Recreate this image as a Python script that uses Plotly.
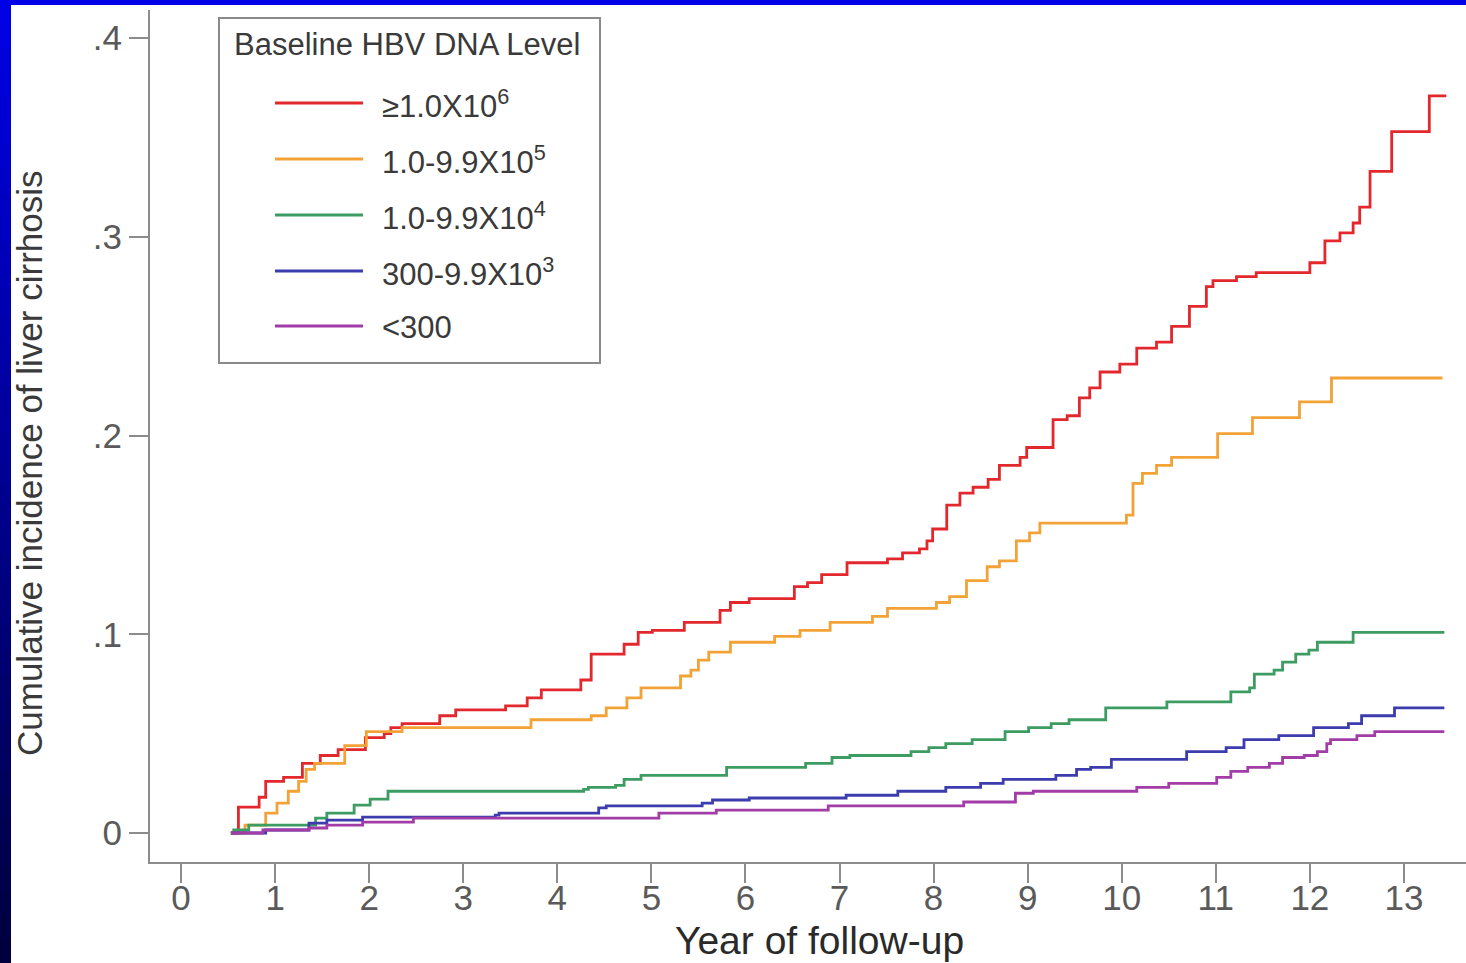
import plotly.graph_objects as go

# ---------------- data ----------------
red_t = [0.53, 0.61, 0.83, 0.90, 1.09, 1.29, 1.48, 1.67, 1.96, 2.16, 2.23, 2.35, 2.75, 2.92,
         3.45, 3.68, 3.83, 4.25, 4.36, 4.71, 4.86, 5.01, 5.35, 5.73, 5.84, 6.04, 6.52, 6.66,
         6.81, 7.08, 7.51, 7.67, 7.85, 7.93, 7.99, 8.14, 8.28, 8.42, 8.58, 8.70, 8.92, 8.99,
         9.27, 9.42, 9.55, 9.66, 9.77, 9.98, 10.16, 10.37, 10.53, 10.72, 10.90, 10.97, 11.22,
         11.43, 12.00, 12.16, 12.32, 12.46, 12.53, 12.64, 12.87, 13.27, 13.45]
red_v = [0.000, 0.013, 0.018, 0.026, 0.028, 0.035, 0.039, 0.042, 0.048, 0.050, 0.053, 0.055,
         0.059, 0.062, 0.064, 0.068, 0.072, 0.077, 0.090, 0.095, 0.101, 0.102, 0.106, 0.112,
         0.116, 0.118, 0.124, 0.126, 0.130, 0.136, 0.138, 0.141, 0.143, 0.147, 0.153, 0.165,
         0.171, 0.174, 0.178, 0.185, 0.189, 0.194, 0.208, 0.210, 0.219, 0.224, 0.232, 0.236,
         0.244, 0.247, 0.255, 0.265, 0.275, 0.278, 0.280, 0.282, 0.287, 0.298, 0.302, 0.307,
         0.315, 0.333, 0.353, 0.371, 0.371]

orange_t = [0.53, 0.68, 0.90, 1.02, 1.14, 1.25, 1.33, 1.42, 1.74, 1.97, 2.35, 3.72, 4.36, 4.52,
            4.74, 4.89, 5.31, 5.42, 5.50, 5.61, 5.84, 6.31, 6.58, 6.90, 7.35, 7.51, 8.03, 8.17,
            8.35, 8.57, 8.70, 8.88, 9.02, 9.13, 10.05, 10.12, 10.22, 10.37, 10.53, 11.02,
            11.39, 11.89, 12.23, 13.41]
orange_v = [0.000, 0.004, 0.010, 0.015, 0.021, 0.026, 0.032, 0.035, 0.044, 0.051, 0.053, 0.057,
            0.059, 0.063, 0.068, 0.073, 0.079, 0.082, 0.087, 0.091, 0.096, 0.099, 0.102, 0.106,
            0.109, 0.113, 0.116, 0.119, 0.127, 0.134, 0.137, 0.147, 0.151, 0.156, 0.160, 0.176,
            0.181, 0.185, 0.189, 0.201, 0.209, 0.217, 0.229, 0.229]

green_t = [0.53, 0.56, 0.72, 1.43, 1.55, 1.84, 2.01, 2.20, 4.28, 4.33, 4.62, 4.71, 4.89, 5.80,
           6.64, 6.92, 7.11, 7.76, 7.95, 8.13, 8.41, 8.76, 9.01, 9.25, 9.44, 9.83, 10.48, 11.16,
           11.36, 11.41, 11.62, 11.71, 11.85, 11.99, 12.08, 12.46, 13.43]
green_v = [0.000, 0.0015, 0.004, 0.0075, 0.010, 0.014, 0.017, 0.021, 0.022, 0.023, 0.024, 0.027,
           0.029, 0.033, 0.035, 0.038, 0.039, 0.041, 0.043, 0.045, 0.047, 0.051, 0.053, 0.055,
           0.057, 0.063, 0.066, 0.071, 0.073, 0.080, 0.082, 0.086, 0.090, 0.092, 0.096, 0.101,
           0.101]

blue_t = [0.53, 0.90, 1.36, 1.55, 1.93, 3.34, 3.38, 4.44, 4.52, 5.54, 5.65, 6.04, 7.07, 7.62,
          8.13, 8.50, 8.74, 9.30, 9.52, 9.67, 9.89, 10.69, 11.11, 11.30, 11.67, 12.04, 12.41,
          12.55, 12.90, 13.43]
blue_v = [0.000, 0.0015, 0.005, 0.0065, 0.008, 0.009, 0.010, 0.0126, 0.0136, 0.015, 0.0166,
          0.0176, 0.019, 0.021, 0.023, 0.025, 0.027, 0.029, 0.032, 0.033, 0.037, 0.041, 0.043,
          0.047, 0.049, 0.053, 0.055, 0.059, 0.063, 0.063]

purple_t = [0.53, 0.87, 1.36, 1.55, 1.93, 2.47, 5.08, 5.69, 6.88, 8.32, 8.87, 9.06, 10.16, 10.50,
            11.01, 11.16, 11.34, 11.57, 11.71, 11.94, 12.08, 12.18, 12.22, 12.50, 12.69, 13.43]
purple_v = [0.000, 0.0015, 0.0025, 0.004, 0.0055, 0.0075, 0.010, 0.0115, 0.0136, 0.0156, 0.020,
            0.021, 0.023, 0.025, 0.028, 0.031, 0.033, 0.035, 0.038, 0.039, 0.041, 0.045, 0.047,
            0.049, 0.051, 0.051]

series_names = ["≥1.0X10<sup>6</sup>", "1.0-9.9X10<sup>5</sup>", "1.0-9.9X10<sup>4</sup>",
                "300-9.9X10<sup>3</sup>", "&lt;300"]
series_colors = ["#e2282c", "#f2a236", "#3c9c62", "#3c3cae", "#a23ca6"]

x_ticks = list(range(0, 14))
x_tick_labels = [str(v) for v in x_ticks]
y_ticks = [0, 0.1, 0.2, 0.3, 0.4]
y_tick_labels = ["0", ".1", ".2", ".3", ".4"]

legend_title = "Baseline HBV DNA Level"
x_title = "Year of follow-up"
y_title = "Cumulative incidence of liver cirrhosis"

# ---------------- figure ----------------
W, H = 1466, 963
ML, MR, MT, MB = 150, 0, 10, 101
PW, PH = W - ML - MR, H - MT - MB


def px_x(p):
    return (p - ML) / PW


def px_y(p):
    return 1 - (p - MT) / PH


FONT = "Liberation Sans, Arial, sans-serif"

fig = go.Figure()
all_t = [red_t, orange_t, green_t, blue_t, purple_t]
all_v = [red_v, orange_v, green_v, blue_v, purple_v]
for t, v, name, col in zip(all_t, all_v, series_names, series_colors):
    fig.add_trace(go.Scatter(x=t, y=v, mode="lines", name=name, line_shape="hv",
                             line=dict(color=col, width=2.8), showlegend=False,
                             hoverinfo="skip"))

shapes = []
# blue frame: left gradient strip and top strip
n_bands = 40
top_rgb = (0, 0, 232)
bot_rgb = (0, 0, 60)
for i in range(n_bands):
    f0 = i / n_bands
    f1 = (i + 1) / n_bands
    fm = (f0 + f1) / 2
    r = int(top_rgb[0] + (bot_rgb[0] - top_rgb[0]) * fm)
    g = int(top_rgb[1] + (bot_rgb[1] - top_rgb[1]) * fm)
    b = int(top_rgb[2] + (bot_rgb[2] - top_rgb[2]) * fm)
    shapes.append(dict(type="rect", xref="paper", yref="paper",
                       x0=px_x(0), x1=px_x(11), y0=px_y(H * f0), y1=px_y(H * f1 + 1),
                       fillcolor=f"rgb({r},{g},{b})", line=dict(width=0), layer="below"))
shapes.append(dict(type="rect", xref="paper", yref="paper",
                   x0=px_x(0), x1=px_x(W), y0=px_y(0), y1=px_y(5),
                   fillcolor="rgb(0,0,232)", line=dict(width=0), layer="below"))

# legend box (drawn)
shapes.append(dict(type="rect", xref="paper", yref="paper",
                   x0=px_x(219), x1=px_x(600), y0=px_y(18), y1=px_y(363),
                   fillcolor="rgba(255,255,255,0)", line=dict(color="#8a8a8a", width=2)))
annotations = [dict(text=legend_title, xref="paper", yref="paper", x=px_x(232), y=px_y(44),
                    xanchor="left", yanchor="middle", showarrow=False,
                    font=dict(family=FONT, size=31, color="#3a3a3a"))]
entry_y = [103, 159, 215, 271, 326]
for yy, name, col in zip(entry_y, series_names, series_colors):
    shapes.append(dict(type="line", xref="paper", yref="paper",
                       x0=px_x(275), x1=px_x(363), y0=px_y(yy), y1=px_y(yy),
                       line=dict(color=col, width=3)))
    annotations.append(dict(text=name, xref="paper", yref="paper", x=px_x(380), y=px_y(yy + 1),
                            xanchor="left", yanchor="middle", showarrow=False,
                            font=dict(family=FONT, size=31, color="#3a3a3a")))

# axis titles
annotations.append(dict(text=x_title, xref="paper", yref="paper", x=px_x(819), y=px_y(940),
                        xanchor="center", yanchor="middle", showarrow=False,
                        font=dict(family=FONT, size=39, color="#2a2a2a")))
annotations.append(dict(text=y_title, xref="paper", yref="paper", x=px_x(30), y=px_y(463),
                        xanchor="center", yanchor="middle", showarrow=False, textangle=-90,
                        font=dict(family=FONT, size=35, color="#3a3a3a")))

fig.update_layout(
    width=W, height=H,
    margin=dict(l=ML, r=MR, t=MT, b=MB, pad=0),
    paper_bgcolor="white", plot_bgcolor="white",
    shapes=shapes, annotations=annotations,
    showlegend=False,
    xaxis=dict(range=[-0.33, 13.66], tickvals=x_ticks, ticktext=x_tick_labels,
               showgrid=False, zeroline=False, showline=True, linecolor="#8c8c8c", linewidth=2,
               ticks="outside", ticklen=19, tickwidth=2, tickcolor="#8c8c8c",
               ticklabelstandoff=-15,
               tickfont=dict(family=FONT, size=35, color="#5a5a5a")),
    yaxis=dict(range=[-0.0146, 0.4142], tickvals=y_ticks, ticktext=y_tick_labels,
               showgrid=False, zeroline=False, showline=True, linecolor="#8c8c8c", linewidth=2,
               ticks="outside", ticklen=19, tickwidth=2, tickcolor="#8c8c8c",
               ticklabelstandoff=0,
               tickfont=dict(family=FONT, size=35, color="#5a5a5a")),
)

fig.write_html("out.html", config={"displayModeBar": False},
               post_script="document.body.style.margin='0';document.body.style.padding='0';"
                           "document.body.style.overflow='hidden';")
